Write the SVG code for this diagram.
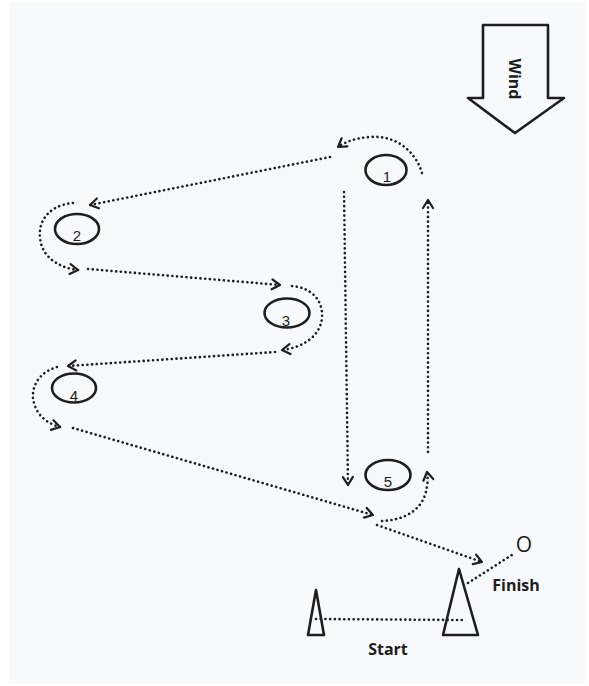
<svg xmlns="http://www.w3.org/2000/svg" width="589" height="686" viewBox="0 0 589 686">
<defs>
<marker id="arr" markerUnits="userSpaceOnUse" markerWidth="14" markerHeight="14" viewBox="-9 -7 11 14" refX="0" refY="0" orient="auto">
<path d="M-8,-5 L0,0 L-8,5" fill="none" stroke="#1e1e1e" stroke-width="2.2" stroke-linecap="round" stroke-linejoin="round"/>
</marker>
</defs>
<style>
.dot{fill:none;stroke:#1e1e1e;stroke-width:2.6;stroke-linecap:round;stroke-dasharray:0.1 4.6}
.mark{fill:none;stroke:#1e1e1e;stroke-width:2.6}
.num{font-family:"Liberation Sans",Arial,sans-serif;font-size:15px;fill:#1e1e1e;text-anchor:middle}
.lbl{font-family:"Open Sans","Liberation Sans",sans-serif;font-weight:700;font-size:16px;fill:#1e1e1e;text-anchor:middle}
.shape{fill:none;stroke:#1e1e1e;stroke-width:2.6;stroke-linejoin:round}
</style>
<rect x="9" y="2" width="576" height="682" fill="#f8f9fb"/>
<g id="wind">
<polygon class="shape" points="483,25 548,25 548,98 564,98 515,133 468,98 483,98"/>
<text class="lbl" transform="rotate(90 514 79)" x="514" y="84">Wind</text>
</g>
<g id="mark1"><ellipse class="mark" cx="386" cy="170" rx="20.5" ry="15"/><text class="num" x="387" y="182">1</text></g>
<g id="mark2"><ellipse class="mark" cx="77" cy="229" rx="22" ry="15"/><text class="num" x="77" y="241">2</text></g>
<g id="mark3"><ellipse class="mark" cx="287" cy="313" rx="22.5" ry="14.5"/><text class="num" x="286" y="326">3</text></g>
<g id="mark4"><ellipse class="mark" cx="74" cy="388" rx="22" ry="14.5"/><text class="num" x="74" y="401">4</text></g>
<g id="mark5"><ellipse class="mark" cx="388" cy="475" rx="22.5" ry="15"/><text class="num" x="388" y="487">5</text></g>
<g id="finish-buoy"><text class="lbl" style="font-weight:400;font-size:21px" x="524" y="552">O</text></g>
<g id="pin"><polygon class="shape" points="316,590 324,635 308,635"/></g>
<g id="committee"><polygon class="shape" points="459,569 478,635 443,635"/></g>
<g id="labels">
<text class="lbl" x="516" y="591">Finish</text>
<text class="lbl" x="388" y="655">Start</text>
</g>
<g id="connectors">
<path class="dot" d="M422,173 C415,150 395,135 370,137 C355,138 345,142 338,147" marker-end="url(#arr)"/>
<path class="dot" d="M330,157 L90,205" marker-end="url(#arr)"/>
<path class="dot" d="M73,203 C50,205 38,220 40,238 C42,258 60,268 78,270" marker-end="url(#arr)"/>
<path class="dot" d="M88,269 L280,285" marker-end="url(#arr)"/>
<path class="dot" d="M292,286 C312,288 323,300 322,318 C320,338 300,348 282,350" marker-end="url(#arr)"/>
<path class="dot" d="M275,352 L68,366" marker-end="url(#arr)"/>
<path class="dot" d="M57,367 C40,372 32,385 33,398 C35,415 48,424 60,427" marker-end="url(#arr)"/>
<path class="dot" d="M73,428 L373,515" marker-end="url(#arr)"/>
<path class="dot" d="M382,521 C405,520 420,510 425,495 C428,485 428,478 427,472" marker-end="url(#arr)"/>
<path class="dot" d="M428,452 L428,200" marker-end="url(#arr)"/>
<path class="dot" d="M344,192 L348,485" marker-end="url(#arr)"/>
<path class="dot" d="M377,525 L482,562" marker-end="url(#arr)"/>
<path class="dot" d="M468,583 L515,553"/>
<path class="dot" d="M316,619 L462,620"/>
</g>
</svg>
